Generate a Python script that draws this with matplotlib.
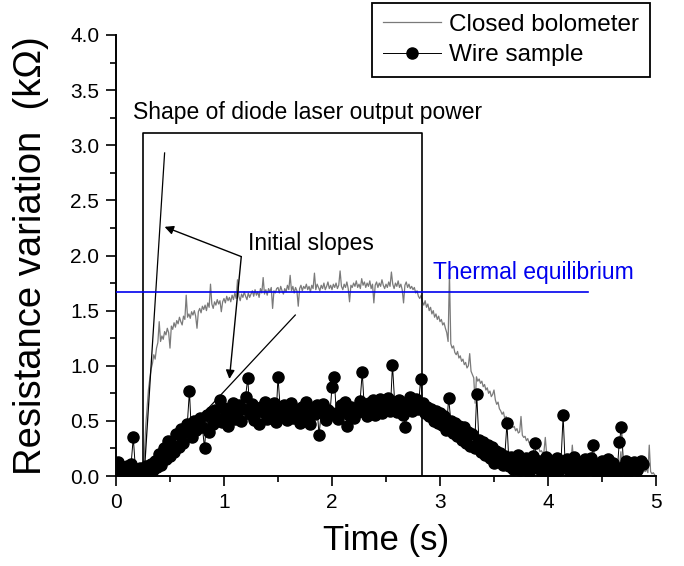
import numpy as np
import matplotlib
matplotlib.use("Agg")
import matplotlib.pyplot as plt
from matplotlib.ticker import MultipleLocator, FormatStrFormatter

plt.rcParams['font.family'] = ['Liberation Sans', 'DejaVu Sans']

# ---------------- data ----------------
bolo_dt = 0.0125  # s, sampling step of the bolometer trace
bolometer = [
    0.02, 0.04, 0.01, 0.03, 0.05, 0.00, 0.02, 0.06, 0.01, 0.03, 0.04, 0.01, 0.05, 0.02, 0.00, 0.03, 0.06, 0.02, 0.04, 0.01,
    0.03, 0.20, 0.45, 0.62, 0.78, 0.88, 0.97, 1.02, 1.10, 1.06, 1.16, 1.21, 1.40, 1.22, 1.27, 1.24, 1.31, 1.28, 1.34, 1.30,
    1.16, 1.36, 1.33, 1.39, 1.35, 1.41, 1.38, 1.44, 1.40, 1.37, 1.45, 1.42, 1.64, 1.44, 1.47, 1.43, 1.49, 1.46, 1.50, 1.45,
    1.34, 1.49, 1.52, 1.48, 1.54, 1.51, 1.55, 1.50, 1.57, 1.53, 1.74, 1.56, 1.52, 1.58, 1.55, 1.60, 1.56, 1.59, 1.49, 1.58,
    1.61, 1.57, 1.63, 1.59, 1.62, 1.58, 1.64, 1.60, 1.66, 1.61, 1.78, 1.63, 1.59, 1.65, 1.62, 1.67, 1.63, 1.60, 1.66, 1.62,
    1.65, 1.68, 1.63, 1.69, 1.64, 1.67, 1.62, 1.70, 1.66, 1.80, 1.65, 1.69, 1.64, 1.70, 1.67, 1.71, 1.52, 1.68, 1.66, 1.70,
    1.71, 1.66, 1.72, 1.68, 1.65, 1.70, 1.67, 1.73, 1.69, 1.82, 1.68, 1.72, 1.66, 1.71, 1.68, 1.54, 1.70, 1.73, 1.68, 1.72,
    1.70, 1.74, 1.69, 1.72, 1.67, 1.73, 1.70, 1.84, 1.69, 1.74, 1.71, 1.68, 1.73, 1.70, 1.75, 1.69, 1.72, 1.76, 1.70, 1.73,
    1.69, 1.74, 1.71, 1.75, 1.70, 1.73, 1.86, 1.72, 1.69, 1.74, 1.71, 1.76, 1.70, 1.58, 1.73, 1.71, 1.75, 1.72, 1.77, 1.71,
    1.74, 1.70, 1.79, 1.73, 1.76, 1.71, 1.75, 1.72, 1.77, 1.70, 1.74, 1.57, 1.73, 1.76, 1.71, 1.75, 1.72, 1.78, 1.73, 1.70,
    1.74, 1.71, 1.76, 1.72, 1.85, 1.74, 1.70, 1.75, 1.72, 1.77, 1.71, 1.74, 1.69, 1.57, 1.73, 1.76, 1.71, 1.74, 1.70, 1.72,
    1.69, 1.71, 1.66, 1.68, 1.63, 1.61, 1.64, 1.58, 1.55, 1.59, 1.53, 1.56, 1.50, 1.53, 1.47, 1.50, 1.44, 1.47, 1.42, 1.45,
    1.40, 1.42, 1.37, 1.39, 1.34, 1.30, 1.22, 1.84, 1.20, 1.16, 1.18, 1.12, 1.10, 1.13, 1.07, 1.09, 1.04, 1.06, 1.01, 1.03,
    0.98, 1.00, 1.11, 0.95, 0.92, 0.89, 0.66, 0.90, 0.86, 0.88, 0.84, 0.86, 0.81, 0.83, 0.78, 0.80, 0.75, 0.77, 0.72, 0.74,
    0.78, 0.69, 0.65, 0.67, 0.61, 0.59, 0.56, 0.58, 0.52, 0.54, 0.49, 0.51, 0.46, 0.48, 0.44, 0.45, 0.41, 0.43, 0.39, 0.40,
    0.54, 0.37, 0.35, 0.36, 0.32, 0.34, 0.30, 0.31, 0.28, 0.30, 0.26, 0.27, 0.24, 0.26, 0.22, 0.23, 0.21, 0.22, 0.35, 0.20,
    0.19, 0.20, 0.17, 0.19, 0.18, 0.16, 0.17, 0.14, 0.16, 0.15, 0.13, 0.15, 0.12, 0.14, 0.13, 0.11, 0.14, 0.12, 0.28, 0.13,
    0.12, 0.10, 0.12, 0.09, 0.13, 0.11, 0.10, 0.08, 0.11, 0.12, 0.09, 0.10, 0.08, 0.11, 0.09, 0.12, 0.10, 0.08, 0.11, 0.09,
    0.12, 0.09, 0.08, 0.10, 0.07, 0.09, 0.11, 0.08, 0.07, 0.10, 0.08, 0.09, 0.06, 0.10, 0.22, 0.07, 0.09, 0.08, 0.06, 0.09,
    0.06, 0.08, 0.07, 0.05, 0.08, 0.06, 0.04, 0.07, 0.05, 0.06, 0.03, 0.05, 0.04, 0.06, 0.03, 0.28, 0.04, 0.02, 0.03, 0.01,
    0.00,
]

wire_dt = 0.02  # s, sampling step of the wire sample trace
wire = [
    0.10, 0.13, 0.05, 0.08, 0.02, 0.09, 0.04, 0.11, 0.35, 0.06,
    0.02, 0.07, 0.01, 0.05, 0.09, 0.03, 0.11, 0.05, 0.14, 0.08,
    0.20, 0.10, 0.25, 0.15, 0.32, 0.18, 0.28, 0.22, 0.38, 0.26,
    0.43, 0.30, 0.40, 0.47, 0.77, 0.35, 0.50, 0.42, 0.46, 0.53,
    0.44, 0.25, 0.55, 0.40, 0.58, 0.47, 0.60, 0.52, 0.69, 0.49,
    0.62, 0.54, 0.45, 0.60, 0.66, 0.52, 0.58, 0.64, 0.50, 0.61,
    0.72, 0.89, 0.56, 0.65, 0.51, 0.60, 0.47, 0.63, 0.58, 0.67,
    0.52, 0.61, 0.56, 0.66, 0.49, 0.90, 0.62, 0.55, 0.64, 0.51,
    0.59, 0.66, 0.53, 0.61, 0.57, 0.48, 0.63, 0.55, 0.67, 0.52,
    0.47, 0.62, 0.56, 0.64, 0.37, 0.58, 0.65, 0.51, 0.60, 0.55,
    0.81, 0.90, 0.57, 0.52, 0.64, 0.59, 0.67, 0.45, 0.55, 0.63,
    0.53, 0.61, 0.58, 0.68, 0.94, 0.60, 0.54, 0.66, 0.57, 0.69,
    0.55, 0.63, 0.70, 0.57, 0.66, 0.60, 0.71, 0.59, 1.01, 0.67,
    0.58, 0.69, 0.62, 0.55, 0.44, 0.64, 0.72, 0.59, 0.67, 0.70,
    0.61, 0.88, 0.66, 0.57, 0.63, 0.54, 0.61, 0.50, 0.59, 0.48,
    0.57, 0.46, 0.54, 0.42, 0.71, 0.50, 0.39, 0.48, 0.36, 0.45,
    0.33, 0.44, 0.30, 0.40, 0.27, 0.38, 0.25, 0.74, 0.33, 0.22,
    0.31, 0.19, 0.28, 0.16, 0.26, 0.12, 0.23, 0.15, 0.21, 0.10,
    0.18, 0.48, 0.09, 0.17, 0.06, 0.14, 0.19, 0.05, 0.13, 0.08,
    0.16, 0.04, 0.12, 0.18, 0.30, 0.07, 0.14, 0.03, 0.11, 0.17,
    0.06, 0.13, 0.02, 0.10, 0.16, 0.05, 0.12, 0.55, 0.08, 0.15,
    0.03, 0.11, 0.17, 0.06, 0.13, 0.02, 0.09, 0.15, 0.05, 0.12,
    0.16, 0.28, 0.04, 0.11, 0.07, 0.14, 0.02, 0.10, 0.15, 0.05,
    0.12, 0.08, 0.03, 0.31, 0.44, 0.09, 0.14, 0.04, 0.11, 0.07,
    0.13, 0.05, 0.10, 0.14, 0.11,
]

laser_on, laser_off, laser_level = 0.25, 2.83, 3.11
equilibrium = 1.665
equilibrium_end = 4.37
bolo_slope = ([0.26, 0.45], [0.0, 2.93])
wire_slope = ([0.27, 1.66], [0.0, 1.46])
arrow_tail = (1.16, 1.99)
arrow_heads = [(0.45, 2.26), (1.05, 0.88)]

t_bolo = np.arange(len(bolometer)) * bolo_dt
t_wire = np.arange(len(wire)) * wire_dt

# ---------------- figure ----------------
fig = plt.figure(figsize=(6.84, 5.66), dpi=100)
ax = fig.add_axes([116/684, 90/566, 540/684, 441/566])

ax.plot(t_bolo, bolometer, color='#7a7a7a', lw=0.9, zorder=2, label='Closed bolometer')
ax.plot(t_wire, wire, color='black', lw=0.7, marker='o', markersize=8,
        markerfacecolor='black', markeredgecolor='black', zorder=3, label='Wire sample')

# laser output shape
ax.plot([laser_on, laser_on, laser_off, laser_off], [0, laser_level, laser_level, 0],
        color='black', lw=1.2, zorder=4)
# initial slopes
ax.plot(*bolo_slope, color='black', lw=0.9, zorder=4)
ax.plot(*wire_slope, color='black', lw=0.9, zorder=4)
# thermal equilibrium
ax.plot([0, equilibrium_end], [equilibrium, equilibrium], color='#0000ee', lw=1.2, zorder=4)

for head in arrow_heads:
    ax.annotate('', xy=head, xytext=arrow_tail,
                arrowprops=dict(arrowstyle='-|>', color='black', lw=1.0,
                                mutation_scale=13, shrinkA=0, shrinkB=0), zorder=5)

ax.text(0.155, 3.30, 'Shape of diode laser output power', fontsize=16.5, ha='left', va='center')
ax.text(1.225, 2.11, 'Initial slopes', fontsize=16.5, ha='left', va='center')
ax.text(2.935, 1.85, 'Thermal equilibrium', fontsize=16.5, ha='left', va='center', color='#0000ee')

ax.set_xlim(0, 5)
ax.set_ylim(0, 4)
for s in ('top', 'right'):
    ax.spines[s].set_visible(False)
for s in ('left', 'bottom'):
    ax.spines[s].set_linewidth(1.4)

ax.xaxis.set_major_locator(MultipleLocator(1))
ax.xaxis.set_minor_locator(MultipleLocator(0.5))
ax.yaxis.set_major_locator(MultipleLocator(0.5))
ax.yaxis.set_minor_locator(MultipleLocator(0.25))
ax.yaxis.set_major_formatter(FormatStrFormatter('%.1f'))
ax.tick_params(which='major', direction='out', length=7, width=1.2, labelsize=15, pad=5)
ax.tick_params(which='minor', direction='out', length=4, width=1.2)

ax.set_xlabel('Time (s)', fontsize=25)
ax.set_ylabel('Resistance variation  (kΩ)', fontsize=27.5)
ax.xaxis.set_label_coords(0.5, -0.147)
ax.xaxis.label.set_verticalalignment('center')
ax.yaxis.set_label_coords(-0.157, 0.5)
ax.yaxis.label.set_verticalalignment('center')

leg = ax.legend(loc='upper right', bbox_to_anchor=(650/684, 1 - 3/566),
                bbox_transform=fig.transFigure, borderaxespad=0, fontsize=17.5,
                frameon=True, fancybox=False, framealpha=1, edgecolor='black',
                handlelength=2.4, handletextpad=0.33, labelspacing=0.34,
                borderpad=0.45)
leg.get_frame().set_linewidth(1.3)

fig.savefig('out.png', dpi=100)
